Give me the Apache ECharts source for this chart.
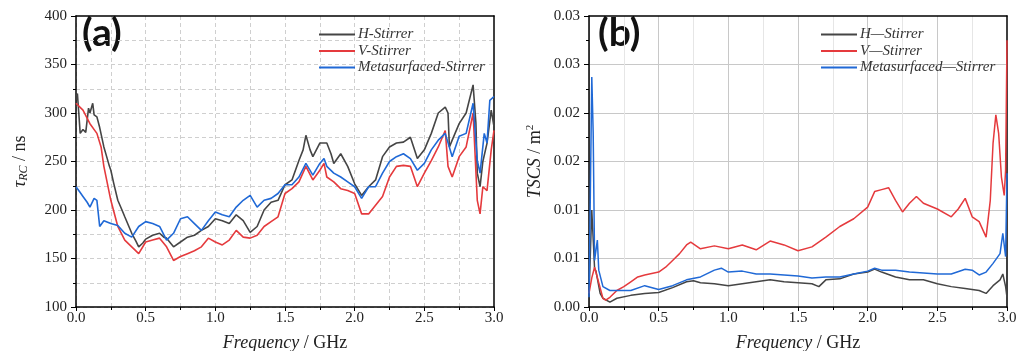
<!DOCTYPE html>
<html>
<head>
<meta charset="utf-8">
<script src="https://cdn.jsdelivr.net/npm/echarts@6/dist/echarts.min.js"></script>
<style>
  html, body { margin: 0; padding: 0; background: #fff; }
  #chart { width: 1027px; height: 351px; }
</style>
</head>
<body>
<div id="chart"></div>
<script>
// (a) decay time tau_RC (ns) vs frequency (GHz), [f, tau]
const hStirrerTau = [[0,317],[0.01,320],[0.02,300],[0.03,279],[0.05,283],[0.07,280],[0.09,305],[0.1,300],[0.12,310],[0.13,298],[0.15,296],[0.17,285],[0.2,265],[0.22,255],[0.24,245],[0.25,241],[0.27,228],[0.3,210],[0.33,200],[0.35,193],[0.4,176],[0.43,168],[0.45,162],[0.48,166],[0.5,170],[0.55,174],[0.6,176],[0.63,172],[0.65,171],[0.7,162],[0.75,167],[0.8,172],[0.85,174],[0.9,179],[0.95,183],[1.0,191],[1.05,189],[1.1,186],[1.15,195],[1.2,189],[1.25,177],[1.3,183],[1.35,200],[1.4,208],[1.45,210],[1.5,226],[1.55,231],[1.6,251],[1.63,262],[1.65,277],[1.68,262],[1.7,255],[1.75,269],[1.8,269],[1.83,258],[1.85,248],[1.9,258],[1.95,245],[2.0,227],[2.05,215],[2.1,224],[2.15,231],[2.2,255],[2.25,265],[2.3,269],[2.35,270],[2.4,275],[2.45,253],[2.5,262],[2.55,279],[2.6,300],[2.65,306],[2.67,300],[2.68,265],[2.7,272],[2.75,289],[2.8,300],[2.85,329],[2.87,290],[2.88,238],[2.9,224],[2.92,250],[2.95,269],[2.98,303],[3.0,286]];
const vStirrerTau = [[0,310],[0.05,303],[0.1,289],[0.15,279],[0.18,265],[0.2,245],[0.25,210],[0.3,183],[0.35,169],[0.4,162],[0.45,155],[0.5,167],[0.55,169],[0.6,171],[0.65,162],[0.7,148],[0.75,152],[0.8,155],[0.85,158],[0.9,162],[0.95,171],[1.0,167],[1.05,164],[1.1,169],[1.15,179],[1.2,172],[1.25,171],[1.3,174],[1.35,183],[1.4,188],[1.45,193],[1.5,217],[1.55,222],[1.6,229],[1.65,245],[1.7,231],[1.75,241],[1.78,248],[1.8,234],[1.85,229],[1.9,222],[1.95,220],[2.0,217],[2.05,196],[2.1,196],[2.15,205],[2.2,214],[2.25,234],[2.3,245],[2.35,246],[2.4,245],[2.45,224],[2.5,238],[2.55,251],[2.6,265],[2.65,282],[2.67,245],[2.7,234],[2.75,255],[2.8,265],[2.85,300],[2.88,210],[2.9,196],[2.92,224],[2.95,220],[2.98,262],[3.0,282]];
const mStirrerTau = [[0,224],[0.03,218],[0.05,214],[0.08,208],[0.1,203],[0.13,212],[0.15,210],[0.17,183],[0.2,189],[0.25,186],[0.3,184],[0.35,176],[0.4,172],[0.45,183],[0.5,188],[0.55,186],[0.6,183],[0.65,169],[0.7,176],[0.75,191],[0.8,193],[0.85,186],[0.9,179],[0.95,189],[1.0,198],[1.05,195],[1.1,193],[1.15,203],[1.2,210],[1.25,215],[1.3,203],[1.35,210],[1.4,212],[1.45,217],[1.5,226],[1.55,226],[1.6,234],[1.65,248],[1.7,236],[1.75,248],[1.78,253],[1.8,245],[1.85,238],[1.9,234],[1.95,229],[2.0,224],[2.05,212],[2.1,224],[2.15,224],[2.2,238],[2.25,250],[2.3,255],[2.35,258],[2.4,253],[2.45,241],[2.5,248],[2.55,262],[2.6,272],[2.65,279],[2.7,255],[2.75,276],[2.8,279],[2.85,310],[2.88,251],[2.9,238],[2.93,279],[2.95,269],[2.97,313],[3.0,317]];

// (b) total scattering cross section (m^2) vs frequency (GHz), [f, tscs]
const hStirrerTscs = [[0,0.0012],[0.02,0.0100],[0.04,0.0040],[0.05,0.0037],[0.08,0.0014],[0.1,0.0009],[0.15,0.0005],[0.2,0.0009],[0.3,0.0012],[0.4,0.0014],[0.5,0.0015],[0.6,0.0020],[0.7,0.0026],[0.75,0.0027],[0.8,0.0025],[0.9,0.0024],[1.0,0.0022],[1.1,0.0024],[1.2,0.0026],[1.3,0.0028],[1.4,0.0026],[1.5,0.0025],[1.6,0.0024],[1.65,0.0021],[1.7,0.0028],[1.8,0.0029],[1.9,0.0034],[2.0,0.0036],[2.05,0.0039],[2.1,0.0036],[2.2,0.0031],[2.3,0.0028],[2.4,0.0028],[2.5,0.0024],[2.6,0.0021],[2.7,0.0019],[2.8,0.0017],[2.85,0.0014],[2.9,0.0022],[2.95,0.0028],[2.97,0.0034],[2.99,0.0021],[3.0,0.0010]];
const vStirrerTscs = [[0,0.0014],[0.02,0.0030],[0.04,0.0041],[0.07,0.0025],[0.1,0.0009],[0.12,0.0007],[0.15,0.0010],[0.2,0.0017],[0.25,0.0021],[0.3,0.0026],[0.35,0.0031],[0.4,0.0033],[0.5,0.0036],[0.55,0.0041],[0.6,0.0048],[0.65,0.0055],[0.7,0.0064],[0.73,0.0067],[0.8,0.0060],[0.9,0.0063],[1.0,0.0060],[1.1,0.0064],[1.2,0.0059],[1.3,0.0068],[1.4,0.0064],[1.5,0.0058],[1.6,0.0062],[1.7,0.0072],[1.8,0.0083],[1.9,0.0091],[2.0,0.0103],[2.05,0.0119],[2.1,0.0121],[2.15,0.0123],[2.2,0.0110],[2.25,0.0098],[2.3,0.0107],[2.35,0.0114],[2.4,0.0107],[2.5,0.0101],[2.6,0.0093],[2.65,0.0101],[2.7,0.0112],[2.75,0.0093],[2.8,0.0088],[2.85,0.0072],[2.88,0.0110],[2.9,0.0169],[2.92,0.0198],[2.94,0.0179],[2.96,0.0134],[2.98,0.0115],[2.99,0.0141],[3.0,0.0275]];
const mStirrerTscs = [[0,0.0010],[0.01,0.0120],[0.02,0.0237],[0.03,0.0180],[0.04,0.0048],[0.06,0.0069],[0.07,0.0038],[0.1,0.0021],[0.15,0.0017],[0.2,0.0017],[0.3,0.0017],[0.4,0.0022],[0.5,0.0018],[0.6,0.0022],[0.7,0.0028],[0.8,0.0031],[0.9,0.0038],[0.95,0.0040],[1.0,0.0036],[1.1,0.0037],[1.2,0.0034],[1.3,0.0034],[1.4,0.0033],[1.5,0.0032],[1.6,0.0030],[1.7,0.0031],[1.8,0.0031],[1.9,0.0034],[2.0,0.0037],[2.05,0.0040],[2.1,0.0038],[2.2,0.0038],[2.3,0.0036],[2.4,0.0035],[2.5,0.0034],[2.6,0.0034],[2.7,0.0039],[2.75,0.0038],[2.8,0.0033],[2.85,0.0036],[2.9,0.0045],[2.95,0.0055],[2.97,0.0076],[2.99,0.0052],[3.0,0.0138]];

const tscsTickLabels = ['0.00', '0.01', '0.01', '0.02', '0.02', '0.03', '0.03'];

const serif = "'Liberation Serif', 'DejaVu Serif', serif";
const colors = { h: '#454545', v: '#e53a3d', m: '#2069d6' };

function xAxisFor(gridIndex, dashed) {
  return {
    type: 'value', gridIndex, min: 0, max: 3, interval: 0.5,
    name: '{i|Frequency} / GHz', nameLocation: 'middle', nameGap: 27,
    nameTextStyle: { fontFamily: serif, fontSize: 18, color: '#222', rich: { i: { fontFamily: serif, fontSize: 18, fontStyle: 'italic', color: '#222' } } },
    axisLine: { show: true, onZero: false, lineStyle: { color: '#000', width: 1.5 } },
    axisTick: { show: true, inside: false, length: 4, lineStyle: { color: '#000' } },
    minorTick: { show: true, splitNumber: 2, length: 3, lineStyle: { color: '#000' } },
    axisLabel: { fontFamily: serif, fontSize: 15, color: '#222', margin: 4, formatter: v => v.toFixed(1) },
    splitLine: { show: true, showMaxLine: false, lineStyle: { color: dashed ? '#cfcfcf' : '#c8c8c8', type: dashed ? [4, 3] : 'solid' } },
    minorSplitLine: { show: true, lineStyle: { color: dashed ? '#cfcfcf' : '#e6e6e6', type: dashed ? [4, 3] : 'solid' } }
  };
}

// plain axis lines closing the box on top and right
function frameAxis(kind, gridIndex) {
  return {
    type: 'value', gridIndex, position: kind === 'x' ? 'top' : 'right',
    min: 0, max: 1,
    axisLine: { show: true, onZero: false, lineStyle: { color: '#000', width: 1.5 } },
    axisTick: { show: false }, axisLabel: { show: false }, splitLine: { show: false }
  };
}

const legendText = { fontFamily: serif, fontSize: 15, fontStyle: 'italic', color: '#333', padding: [0, 0, 0, -2] };

const option = {
  animation: false,
  backgroundColor: '#fff',
  grid: [
    { left: 76, right: 533, top: 16, bottom: 44, outerBoundsMode: 'none' },
    { left: 589, right: 20, top: 16, bottom: 44, outerBoundsMode: 'none' }
  ],
  xAxis: [xAxisFor(0, true), xAxisFor(1, false), frameAxis('x', 0), frameAxis('x', 1)],
  yAxis: [
    {
      type: 'value', gridIndex: 0, min: 100, max: 400, interval: 50,
      name: '{i|τ}{sub|RC} / ns', nameLocation: 'middle', nameGap: 46,
      nameTextStyle: { fontFamily: serif, fontSize: 18, color: '#222', rich: {
        i: { fontFamily: serif, fontSize: 19, fontStyle: 'italic', color: '#222' },
        sub: { fontFamily: serif, fontSize: 12, fontStyle: 'italic', color: '#222', padding: [8, 0, 0, 0] } } },
      axisLine: { show: true, onZero: false, lineStyle: { color: '#000', width: 1.5 } },
      axisTick: { show: true, length: 5, lineStyle: { color: '#000' } },
      minorTick: { show: true, splitNumber: 2, length: 3, lineStyle: { color: '#000' } },
      axisLabel: { fontFamily: serif, fontSize: 15, color: '#222', margin: 9 },
      splitLine: { show: true, showMaxLine: false, lineStyle: { color: '#cfcfcf', type: [4, 3] } },
      minorSplitLine: { show: true, lineStyle: { color: '#cfcfcf', type: [4, 3] } }
    },
    {
      type: 'value', gridIndex: 1, min: 0, max: 0.03, interval: 0.005,
      name: '{i|TSCS} / m{sup|2}', nameLocation: 'middle', nameGap: 44,
      nameTextStyle: { fontFamily: serif, fontSize: 18, color: '#222', rich: {
        i: { fontFamily: serif, fontSize: 18, fontStyle: 'italic', color: '#222' },
        sup: { fontFamily: serif, fontSize: 11, color: '#222', padding: [0, 0, 9, 0] } } },
      axisLine: { show: true, onZero: false, lineStyle: { color: '#000', width: 1.5 } },
      axisTick: { show: true, length: 5, lineStyle: { color: '#000' } },
      minorTick: { show: true, splitNumber: 2, length: 3, lineStyle: { color: '#000' } },
      axisLabel: { fontFamily: serif, fontSize: 15, color: '#222', margin: 9, formatter: (v, i) => tscsTickLabels[i] },
      splitLine: { show: true, showMaxLine: false, lineStyle: { color: '#c8c8c8' } },
      minorSplitLine: { show: false }
    },
    frameAxis('y', 0),
    frameAxis('y', 1)
  ],
  legend: [
    {
      data: ['H-Stirrer', 'V-Stirrer', 'Metasurfaced-Stirrer'],
      left: 314, top: 22, orient: 'vertical', itemGap: 1.5, itemWidth: 36, itemHeight: 2, icon: 'rect',
      textStyle: legendText
    },
    {
      data: ['H—Stirrer', 'V—Stirrer', 'Metasurfaced—Stirrer'],
      left: 816, top: 22, orient: 'vertical', itemGap: 1.5, itemWidth: 36, itemHeight: 2, icon: 'rect',
      textStyle: legendText
    }
  ],
  graphic: [
    { type: 'text', left: 82, top: 14, style: { text: '(a)', font: "bold 39px Lato, 'Open Sans', sans-serif", fill: '#111' } },
    { type: 'text', left: 598, top: 14, style: { text: '(b)', font: "bold 39px Lato, 'Open Sans', sans-serif", fill: '#111' } }
  ],
  series: [
    { name: 'H-Stirrer', type: 'line', xAxisIndex: 0, yAxisIndex: 0, data: hStirrerTau, symbol: 'none', lineStyle: { color: colors.h, width: 1.6 }, itemStyle: { color: colors.h } },
    { name: 'V-Stirrer', type: 'line', xAxisIndex: 0, yAxisIndex: 0, data: vStirrerTau, symbol: 'none', lineStyle: { color: colors.v, width: 1.6 }, itemStyle: { color: colors.v } },
    { name: 'Metasurfaced-Stirrer', type: 'line', xAxisIndex: 0, yAxisIndex: 0, data: mStirrerTau, symbol: 'none', lineStyle: { color: colors.m, width: 1.6 }, itemStyle: { color: colors.m } },
    { name: 'H—Stirrer', type: 'line', xAxisIndex: 1, yAxisIndex: 1, data: hStirrerTscs, symbol: 'none', lineStyle: { color: colors.h, width: 1.5 }, itemStyle: { color: colors.h } },
    { name: 'V—Stirrer', type: 'line', xAxisIndex: 1, yAxisIndex: 1, data: vStirrerTscs, symbol: 'none', lineStyle: { color: colors.v, width: 1.5 }, itemStyle: { color: colors.v } },
    { name: 'Metasurfaced—Stirrer', type: 'line', xAxisIndex: 1, yAxisIndex: 1, data: mStirrerTscs, symbol: 'none', lineStyle: { color: colors.m, width: 1.5 }, itemStyle: { color: colors.m } }
  ]
};

const chart = echarts.init(document.getElementById('chart'));
chart.setOption(option);
</script>
</body>
</html>
